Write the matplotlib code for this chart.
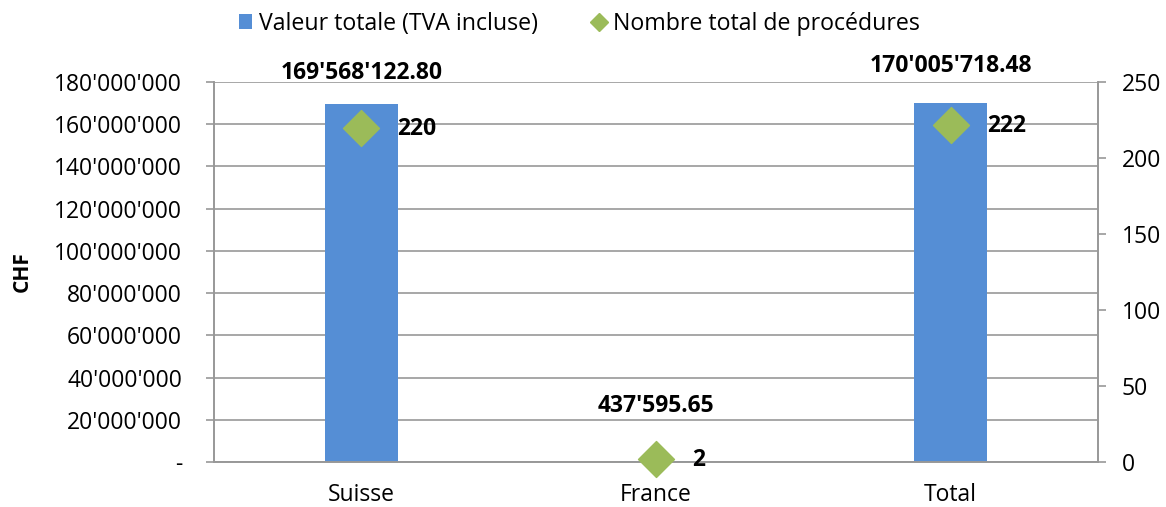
import numpy as np
import matplotlib
matplotlib.use('Agg')
import matplotlib.pyplot as plt
from matplotlib.ticker import FuncFormatter, MultipleLocator
from matplotlib.lines import Line2D
from matplotlib.patches import Patch

plt.rcParams['font.family'] = ['Open Sans', 'DejaVu Sans']

# donnees
categories = ['Suisse', 'France', 'Total']
valeur_totale = [169568122.80, 437595.65, 170005718.48]
nb_procedures = [220, 2, 222]
valeur_labels = ["169'568'122.80", "437'595.65", "170'005'718.48"]

bar_color = '#558ED5'
diamond_color = '#9BBB59'
grid_color = '#989898'
fs = 16.5

fig = plt.figure(figsize=(11.66, 5.07), dpi=100)
ax = fig.add_axes([214/1166, 1 - 462/507, (1098-214)/1166, (462-82)/507])
ax2 = ax.twinx()

x = np.arange(len(categories))
ax.bar(x, valeur_totale, width=0.25, color=bar_color, zorder=2)
ax.set_xlim(-0.5, 2.5)
ax.set_ylim(0, 180e6)
ax.yaxis.set_major_locator(MultipleLocator(20e6))

def chf_fmt(v, pos):
    if v == 0:
        return '-'
    return f"{v:,.0f}".replace(',', "'")

ax.yaxis.set_major_formatter(FuncFormatter(chf_fmt))
ax.grid(axis='y', color=grid_color, linewidth=1.2, zorder=0)
ax.set_axisbelow(True)
ax.set_xticks(x)
ax.set_xticklabels(categories)
ax.tick_params(axis='x', length=0, labelsize=fs, pad=15)
ax.tick_params(axis='y', labelsize=fs, length=6, color=grid_color, width=1.2, pad=17)
fig.text(22/1166, 1 - 272/507, 'CHF', rotation=90, ha='center', va='center',
         fontsize=15, fontweight='bold')

# etiquettes des barres (decalage manuel comme dans l'original)
label_offsets = [31, 55, 37]
for xi, v, lab, off in zip(x, valeur_totale, valeur_labels, label_offsets):
    ax.annotate(lab, (xi, v), xytext=(0, off * 0.72), textcoords='offset points',
                ha='center', va='center', fontsize=16.5, fontweight='bold')

ax2.set_ylim(0, 250)
ax2.yaxis.set_major_locator(MultipleLocator(50))
ax2.scatter(x, nb_procedures, marker='D', s=335, color=diamond_color, zorder=4,
            clip_on=False)
for xi, n in zip(x, nb_procedures):
    ax2.annotate(str(n), (xi, n), xytext=(26, -1), textcoords='offset points',
                 ha='left', va='center', fontsize=16.5, fontweight='bold')
ax2.tick_params(axis='y', labelsize=fs, length=6, color=grid_color, width=1.2, pad=11)

for a in (ax, ax2):
    a.spines['top'].set_visible(False)
    for s in ('left', 'right', 'bottom'):
        a.spines[s].set_color(grid_color)
        a.spines[s].set_linewidth(1.2)

handles = [Patch(facecolor=bar_color, edgecolor='none'),
           Line2D([], [], marker='D', color=diamond_color, linestyle='none', markersize=9)]
fig.legend(handles, ['Valeur totale (TVA incluse)', 'Nombre total de procédures'],
           loc='center', bbox_to_anchor=(579/1166, 1 - 24/507), ncol=2, frameon=False,
           fontsize=16.7, handlelength=0.6, handleheight=0.6, handletextpad=0.3,
           columnspacing=2.3)

fig.savefig('out.png', dpi=100)
